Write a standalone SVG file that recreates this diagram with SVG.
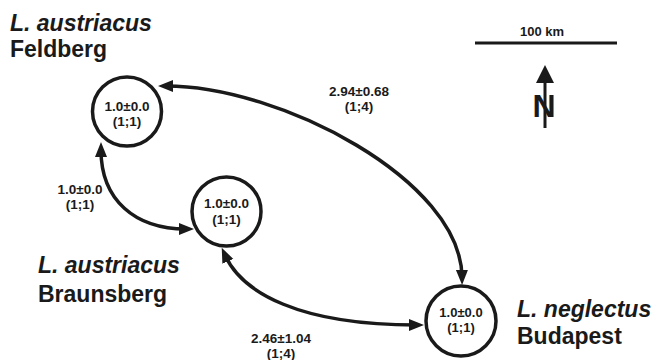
<svg xmlns="http://www.w3.org/2000/svg" width="653" height="360" viewBox="0 0 653 360">
<style>
.big{font-family:"Liberation Sans",Arial,sans-serif;font-weight:bold;font-size:23px;fill:#1a1a1a}
.it{font-style:italic}
.sm{font-family:"Liberation Sans",Arial,sans-serif;font-weight:bold;font-size:13.5px;fill:#1a1a1a;text-anchor:middle}
.node{fill:#fff;stroke:#1a1a1a;stroke-width:3.5}
.edge{fill:none;stroke:#1a1a1a;stroke-width:3.5;marker-start:url(#ah);marker-end:url(#ah)}
</style>
<defs>
<marker id="ah" markerUnits="userSpaceOnUse" markerWidth="16" markerHeight="14" viewBox="0 0 16 14" refX="7" refY="7" orient="auto-start-reverse">
<path d="M0,1 L15,7 L0,13 Z" fill="#1a1a1a"/>
</marker>
</defs>
<rect width="653" height="360" fill="#fff"/>
<g id="connectors">
<path class="edge" d="M 166,86 C 280,86 461,180 462,277"/>
<path class="edge" d="M 101,150 C 101,200 135,229 186,229"/>
<path class="edge" d="M 225,255 C 242,293 300,325 416,325"/>
</g>
<g id="feldberg">
<circle class="node" cx="127" cy="111.5" r="34.5"/>
<text class="sm" x="127" y="111">1.0±0.0</text>
<text class="sm" x="127" y="126">(1;1)</text>
<text class="big it" x="10" y="31">L. austriacus</text>
<text class="big" x="10" y="57">Feldberg</text>
</g>
<g id="braunsberg">
<circle class="node" cx="226.5" cy="211.5" r="34.5"/>
<text class="sm" x="226.5" y="208">1.0±0.0</text>
<text class="sm" x="226.5" y="224">(1;1)</text>
<text class="big it" x="38" y="273">L. austriacus</text>
<text class="big" x="38" y="302">Braunsberg</text>
</g>
<g id="budapest">
<circle class="node" cx="461" cy="321" r="35"/>
<text class="sm" x="461" y="316.5" style="font-size:13px">1.0±0.0</text>
<text class="sm" x="461" y="332" style="font-size:13px">(1;1)</text>
<text class="big it" x="517" y="317">L. neglectus</text>
<text class="big" x="517" y="344">Budapest</text>
</g>
<g id="edge-labels">
<text class="sm" x="359" y="96">2.94±0.68</text>
<text class="sm" x="359" y="111">(1;4)</text>
<text class="sm" x="80" y="194">1.0±0.0</text>
<text class="sm" x="80" y="209">(1;1)</text>
<text class="sm" x="281" y="343">2.46±1.04</text>
<text class="sm" x="281" y="358">(1;4)</text>
</g>
<g id="scale">
<line x1="475" y1="43" x2="617" y2="43" stroke="#1a1a1a" stroke-width="3"/>
<text class="sm" x="542" y="36" style="font-size:13px">100 km</text>
</g>
<g id="north">
<line x1="545" y1="80" x2="545" y2="128" stroke="#1a1a1a" stroke-width="3"/>
<path d="M545,65 L554,83 L536,83 Z" fill="#1a1a1a"/>
<text x="544" y="117" text-anchor="middle" style="font-family:'Liberation Sans',Arial,sans-serif;font-weight:bold;font-size:32px;fill:#1a1a1a">N</text>
</g>
</svg>
